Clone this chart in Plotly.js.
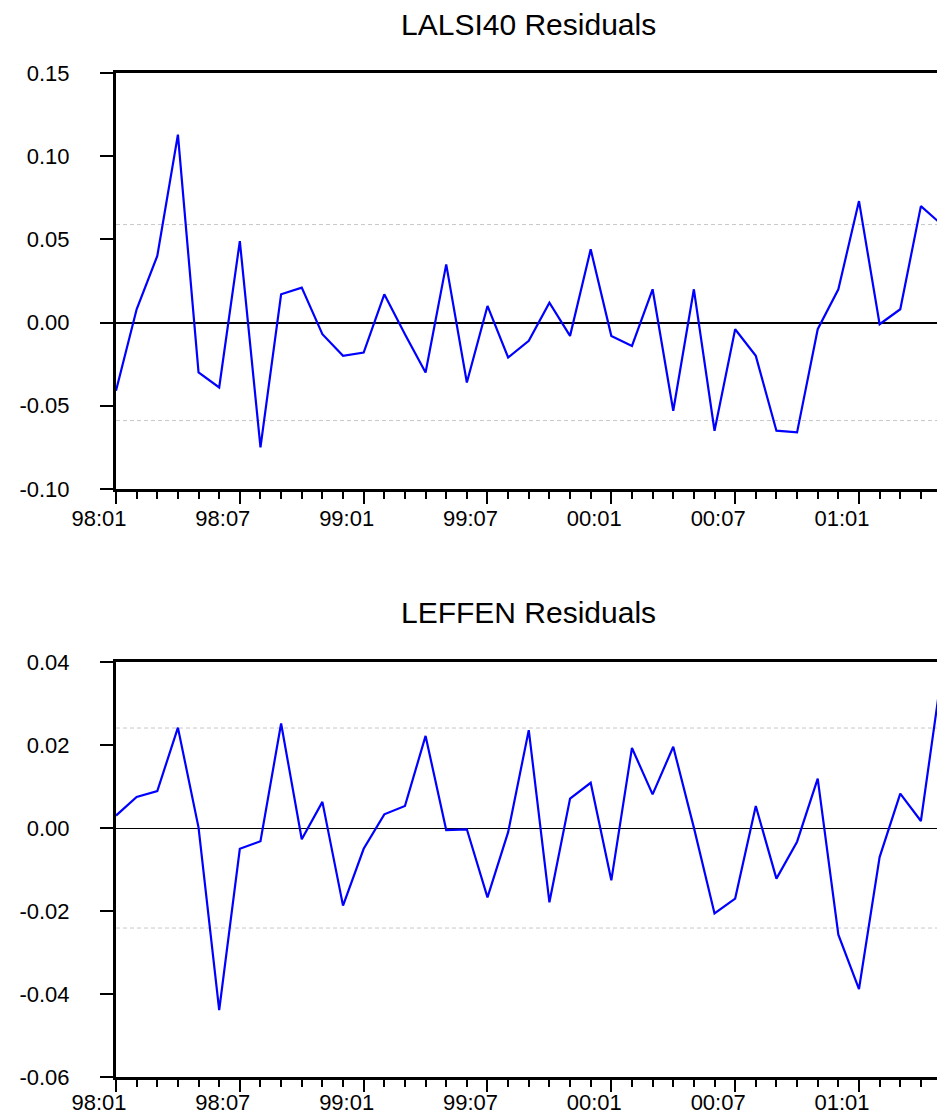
<!DOCTYPE html>
<html>
<head>
<meta charset="utf-8">
<script src="https://cdn.plot.ly/plotly-3.0.1.min.js"></script>
<style>html,body{margin:0;padding:0;background:#fff;}#chart{width:937px;height:1117px;}</style>
</head>
<body>
<div id="chart"></div>
<script>
// Monthly periods (yy:mm)
const periods = ["98:01","98:02","98:03","98:04","98:05","98:06","98:07","98:08","98:09","98:10","98:11","98:12",
  "99:01","99:02","99:03","99:04","99:05","99:06","99:07","99:08","99:09","99:10","99:11","99:12",
  "00:01","00:02","00:03","00:04","00:05","00:06","00:07","00:08","00:09","00:10","00:11","00:12",
  "01:01","01:02","01:03","01:04","01:05"];

// LALSI40 residuals
const lalsi40 = [-0.041, 0.008, 0.040, 0.113, -0.030, -0.039, 0.049, -0.075, 0.017, 0.021, -0.007, -0.020,
  -0.018, 0.017, -0.007, -0.030, 0.035, -0.036, 0.010, -0.021, -0.011, 0.012, -0.008, 0.044,
  -0.008, -0.014, 0.020, -0.053, 0.020, -0.065, -0.004, -0.020, -0.065, -0.066, -0.004, 0.020,
  0.073, -0.001, 0.008, 0.070, 0.059];

// LEFFEN residuals
const leffen = [0.0030, 0.0075, 0.0089, 0.0242, 0.0001, -0.0439, -0.0050, -0.0032, 0.0252, -0.0027, 0.0063, -0.0187,
  -0.0050, 0.0033, 0.0053, 0.0222, -0.0005, -0.0003, -0.0167, -0.0010, 0.0236, -0.0179, 0.0071, 0.0109,
  -0.0126, 0.0193, 0.0081, 0.0196, 0.0001, -0.0206, -0.0170, 0.0053, -0.0122, -0.0033, 0.0119, -0.0257,
  -0.0388, -0.0070, 0.0083, 0.0017, 0.0370];

// +/- standard error bands
const lalsi40Band = [0.0589, -0.0589];
const leffenBand = [0.0241, -0.0241];

// Tick labels
const xTickLabels = ["98:01","98:07","99:01","99:07","00:01","00:07","01:01"];
const yTicksTop = [-0.10, -0.05, 0.00, 0.05, 0.10, 0.15];
const yTickTextTop = ["-0.10","-0.05","0.00","0.05","0.10","0.15"];
const yTicksBot = [-0.06, -0.04, -0.02, 0.00, 0.02, 0.04];
const yTickTextBot = ["-0.06","-0.04","-0.02","0.00","0.02","0.04"];

const titles = ["LALSI40 Residuals", "LEFFEN Residuals"];

const xIdx = periods.map((p, i) => i);
const xTickVals = xTickLabels.map(l => periods.indexOf(l));

const FONT = "Liberation Sans, Arial, sans-serif";
const blue = "#0000ff";

const traces = [
  {x: xIdx, y: lalsi40, type: "scatter", mode: "lines", line: {color: blue, width: 2.2}, xaxis: "x", yaxis: "y", hoverinfo: "x+y"},
  {x: xIdx, y: leffen, type: "scatter", mode: "lines", line: {color: blue, width: 2.2}, xaxis: "x2", yaxis: "y2", hoverinfo: "x+y"}
];

function xax(anchor, standoff) {
  return {
    anchor: anchor, domain: [0, 1], range: [0, 39.78],
    tickmode: "array", tickvals: xTickVals, ticktext: xTickLabels,
    ticks: "outside", ticklen: 12, tickwidth: 2, tickcolor: "#000",
    ticklabelshift: -17, ticklabelstandoff: standoff,
    minor: {ticks: "outside", tick0: 0, dtick: 1, ticklen: 7, tickwidth: 2, tickcolor: "#000", showgrid: false},
    showline: true, linewidth: 3, linecolor: "#000", mirror: true,
    showgrid: false, zeroline: false,
    tickfont: {family: FONT, size: 22, color: "#000"}
  };
}
function yax(anchor, domain, range, tv, tt, zw) {
  return {
    anchor: anchor, domain: domain, range: range,
    tickmode: "array", tickvals: tv, ticktext: tt,
    ticks: "outside", ticklen: 13, tickwidth: 2, tickcolor: "#000",
    ticklabelstandoff: 26,
    showline: true, linewidth: 3, linecolor: "#000", mirror: false,
    showgrid: false, zeroline: true, zerolinecolor: "#000", zerolinewidth: zw,
    tickfont: {family: FONT, size: 22, color: "#000"}
  };
}

const dashStyle = {color: "#c8c8c8", width: 1, dash: "4px,3px"};
const shapes = [];
lalsi40Band.forEach(v => shapes.push({type: "line", xref: "x domain", yref: "y", x0: 0, x1: 1, y0: v, y1: v, line: dashStyle, layer: "below"}));
leffenBand.forEach(v => shapes.push({type: "line", xref: "x2 domain", yref: "y2", x0: 0, x1: 1, y0: v, y1: v, line: dashStyle, layer: "below"}));

const layout = {
  width: 937, height: 1117,
  margin: {l: 116, r: 0, t: 73, b: 40},
  paper_bgcolor: "#fff", plot_bgcolor: "#fff",
  showlegend: false,
  font: {family: FONT, color: "#000"},
  xaxis: xax("y", -4),
  yaxis: yax("x", [0.5857, 1], [-0.10, 0.15], yTicksTop, yTickTextTop, 2),
  xaxis2: xax("y2", -8),
  yaxis2: yax("x2", [0, 0.4133], [-0.06, 0.04], yTicksBot, yTickTextBot, 1),
  shapes: shapes,
  annotations: [
    {text: titles[0], xref: "paper", yref: "paper", x: 0.502, y: 1.0488, xanchor: "center", yanchor: "middle", showarrow: false, font: {family: FONT, size: 30, color: "#000"}},
    {text: titles[1], xref: "paper", yref: "paper", x: 0.502, y: 0.4631, xanchor: "center", yanchor: "middle", showarrow: false, font: {family: FONT, size: 30, color: "#000"}}
  ]
};

Plotly.newPlot("chart", traces, layout, {displayModeBar: false, staticPlot: true});
</script>
</body>
</html>
